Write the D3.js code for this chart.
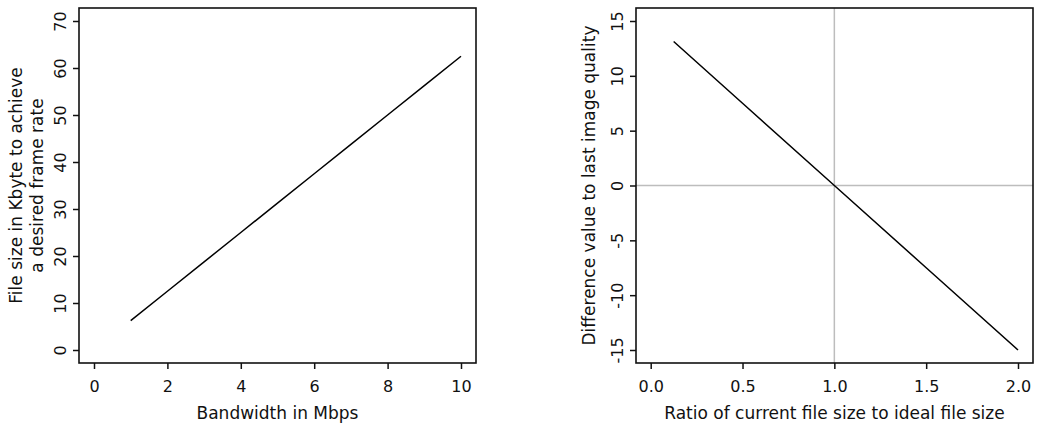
<!DOCTYPE html>
<html>
<head>
<meta charset="utf-8">
<script src="https://cdn.jsdelivr.net/npm/d3@7"></script>
<style>
    body { margin: 0; background: #fff; }
    svg { display: block; }
    text { font-family: "DejaVu Sans", sans-serif; font-size: 17px; fill: #111; }
</style>
</head>
<body>
<svg id="chart" width="1039" height="425"></svg>
<script>
// left panel: bandwidth vs file size
const bandwidth = [1, 2, 3, 4, 5, 6, 7, 8, 9, 10];
const fileSize = [6.25, 12.5, 18.75, 25, 31.25, 37.5, 43.75, 50, 56.25, 62.5];
const leftXTicks = [0, 2, 4, 6, 8, 10];
const leftYTicks = [0, 10, 20, 30, 40, 50, 60, 70];

// right panel: ratio vs difference value
const ratio = [0.125, 0.5, 1.0, 1.5, 2.0];
const diffValue = [13.125, 7.5, 0, -7.5, -15];
const rightXTicks = [0.0, 0.5, 1.0, 1.5, 2.0];
const rightYTicks = [-15, -10, -5, 0, 5, 10, 15];

const svg = d3.select('#chart');

function drawPanel(opts) {
    const box = opts.box;
    const x = d3.scaleLinear().domain(opts.xDomain).range(opts.xRange);
    const y = d3.scaleLinear().domain(opts.yDomain).range(opts.yRange);
    const g = svg.append('g');

    // reference lines
    if (opts.refX !== undefined) {
        g.append('line')
            .attr('x1', x(opts.refX)).attr('x2', x(opts.refX))
            .attr('y1', box.top).attr('y2', box.bottom)
            .attr('stroke', '#bdbdbd').attr('stroke-width', 1.5);
    }
    if (opts.refY !== undefined) {
        g.append('line')
            .attr('x1', box.left).attr('x2', box.right)
            .attr('y1', y(opts.refY)).attr('y2', y(opts.refY))
            .attr('stroke', '#bdbdbd').attr('stroke-width', 1.5);
    }

    // the line
    const pts = opts.xs.map((v, i) => [v, opts.ys[i]]);
    g.append('path')
        .datum(pts)
        .attr('fill', 'none')
        .attr('stroke', '#000')
        .attr('stroke-width', 1.5)
        .attr('d', d3.line().x(d => x(d[0])).y(d => y(d[1])));

    // frame
    g.append('rect')
        .attr('x', box.left).attr('y', box.top)
        .attr('width', box.right - box.left).attr('height', box.bottom - box.top)
        .attr('fill', 'none').attr('stroke', '#111').attr('stroke-width', 1.6);

    const xAxis = d3.axisBottom(x).tickValues(opts.xTicks).tickSize(6).tickSizeOuter(0)
        .tickFormat(opts.xFormat);
    const xg = g.append('g')
        .attr('transform', `translate(0, ${box.bottom})`)
        .call(xAxis);
    xg.select('.domain').remove();
    xg.selectAll('line').attr('stroke', '#111').attr('stroke-width', 1.5);
    xg.selectAll('text').attr('y', 29).attr('dy', null)
        .style('font-family', '"DejaVu Sans", sans-serif').style('font-size', '16px').attr('fill', '#111');

    // plain hyphen for negatives, as in the original
    const yAxis = d3.axisLeft(y).tickValues(opts.yTicks).tickSize(6).tickSizeOuter(0)
        .tickFormat(d => String(d));
    const yg = g.append('g')
        .attr('transform', `translate(${box.left}, 0)`)
        .call(yAxis);
    yg.select('.domain').remove();
    yg.selectAll('line').attr('stroke', '#111').attr('stroke-width', 1.5);
    yg.selectAll('text')
        .attr('x', null).attr('dy', null)
        .attr('text-anchor', 'middle')
        .attr('transform', 'translate(-13, 0) rotate(-90)')
        .style('font-family', '"DejaVu Sans", sans-serif').style('font-size', '16px').attr('fill', '#111');

    // x title
    g.append('text')
        .attr('x', (box.left + box.right) / 2)
        .attr('y', 419)
        .attr('text-anchor', 'middle')
        .text(opts.xTitle);

    // y title (one or more lines)
    const cy = (box.top + box.bottom) / 2;
    const yt = g.append('text')
        .attr('transform', `translate(${opts.yTitleX}, ${cy}) rotate(-90)`)
        .attr('text-anchor', 'middle');
    opts.yTitle.forEach((line, i) => {
        yt.append('tspan').attr('x', 0).attr('y', i * 21).text(line);
    });
}

drawPanel({
    box: { left: 79, right: 476, top: 8, bottom: 363 },
    xDomain: [0, 10], xRange: [94, 461],
    yDomain: [0, 70], yRange: [350, 21],
    xTicks: leftXTicks, yTicks: leftYTicks,
    xFormat: d3.format('d'),
    xs: bandwidth, ys: fileSize,
    xTitle: 'Bandwidth in Mbps',
    yTitle: ['File size in Kbyte to achieve', 'a desired frame rate'],
    yTitleX: 22
});

drawPanel({
    box: { left: 636, right: 1033, top: 8, bottom: 363 },
    xDomain: [0, 2], xRange: [650.7, 1018],
    yDomain: [-15, 15], yRange: [350, 21],
    xTicks: rightXTicks, yTicks: rightYTicks,
    xFormat: d3.format('.1f'),
    xs: ratio, ys: diffValue,
    refX: 1, refY: 0,
    xTitle: 'Ratio of current file size to ideal file size',
    yTitle: ['Difference value to last image quality'],
    yTitleX: 595
});
</script>
</body>
</html>
